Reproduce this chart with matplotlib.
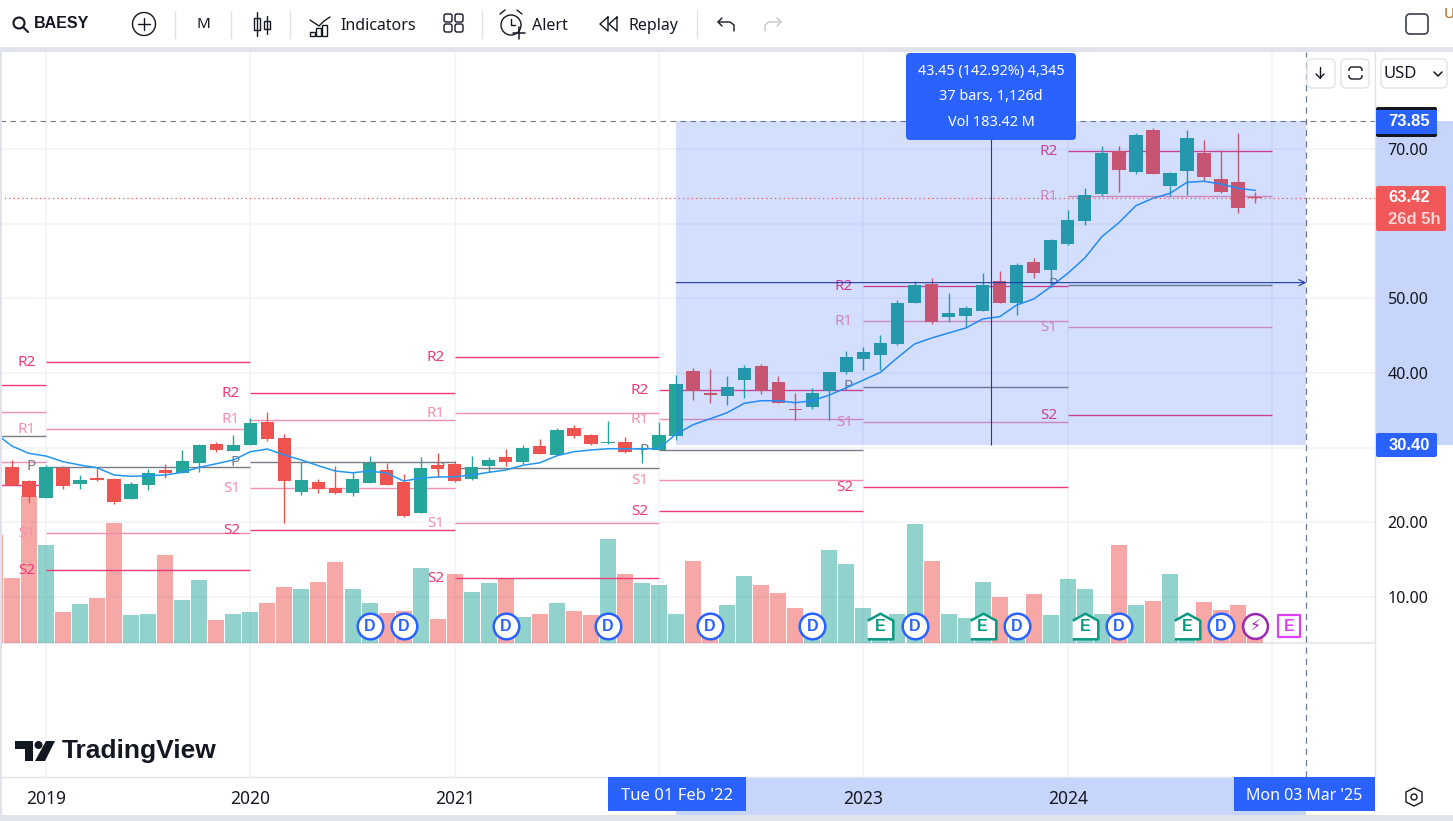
import numpy as np
import matplotlib
matplotlib.use('Agg')
import matplotlib.pyplot as plt
from matplotlib.patches import Rectangle, FancyBboxPatch, Circle, Polygon
from matplotlib.transforms import blended_transform_factory

plt.rcParams['font.family'] = ['Noto Sans', 'DejaVu Sans']

# monthly candles, index 0 = Jan 2019
first_month = -2
opens = [27.41, 25.53, 23.29, 27.27, 25.13, 25.93, 25.80, 23.12, 25.00, 27.01, 26.60, 27.94, 30.49, 29.55, 30.36, 33.44, 31.30, 24.06, 25.40, 24.59, 23.92, 25.26, 27.01, 25.40, 21.24, 27.68, 27.81, 25.80, 27.54, 28.75, 28.08, 30.22, 29.02, 32.64, 31.70, 30.63, 30.76, 29.86, 29.69, 31.56, 40.28, 37.33, 36.93, 39.07, 40.95, 38.80, 35.18, 35.45, 37.60, 40.14, 41.89, 42.42, 43.90, 49.39, 51.94, 47.52, 47.65, 48.32, 52.34, 49.39, 54.89, 53.82, 57.30, 60.38, 64.00, 69.77, 66.95, 72.58, 65.08, 67.09, 69.50, 66.02, 65.61, 63.55]
highs = [28.35, 25.67, 27.67, 27.54, 26.34, 27.27, 25.93, 25.40, 27.14, 27.81, 29.69, 30.49, 30.76, 31.70, 33.98, 34.78, 31.83, 28.08, 25.80, 27.54, 26.74, 28.88, 27.94, 26.47, 28.75, 29.28, 28.21, 28.88, 28.75, 29.82, 30.36, 31.16, 32.64, 33.04, 31.83, 33.58, 31.43, 30.22, 33.44, 39.74, 40.68, 40.54, 39.61, 41.08, 41.22, 39.61, 37.33, 38.00, 40.14, 42.96, 43.49, 45.10, 49.79, 52.34, 52.74, 50.73, 48.99, 53.41, 53.68, 54.75, 55.43, 57.97, 61.86, 64.81, 70.44, 70.44, 72.18, 72.85, 66.95, 72.58, 71.24, 69.90, 72.18, 64.27]
lows = [25.00, 22.58, 23.25, 24.46, 24.46, 25.53, 22.45, 23.12, 24.33, 25.93, 26.60, 26.74, 29.42, 29.55, 30.36, 30.89, 19.90, 23.65, 23.92, 23.79, 23.52, 25.26, 25.00, 20.70, 21.24, 26.07, 25.40, 25.67, 26.74, 27.54, 27.81, 29.15, 29.02, 31.30, 30.36, 30.49, 29.28, 27.94, 29.69, 31.03, 36.39, 35.99, 35.72, 36.66, 37.19, 35.99, 33.71, 35.18, 33.71, 39.87, 40.41, 40.41, 43.76, 49.39, 46.58, 46.85, 46.17, 48.32, 49.39, 47.78, 52.74, 51.81, 57.17, 59.85, 63.74, 64.27, 66.69, 66.69, 63.74, 63.87, 65.75, 64.14, 61.46, 62.80]
closes = [25.00, 23.39, 27.41, 24.86, 25.67, 25.67, 22.72, 25.13, 26.60, 26.60, 28.21, 30.36, 29.69, 30.36, 33.31, 31.17, 25.53, 25.67, 24.46, 23.92, 25.80, 27.94, 25.00, 20.84, 27.27, 27.14, 25.53, 27.41, 28.35, 28.08, 29.96, 29.15, 32.37, 31.56, 30.49, 30.76, 29.42, 29.96, 31.70, 38.53, 37.60, 37.06, 38.13, 40.68, 37.60, 35.99, 35.05, 37.33, 40.14, 42.15, 42.82, 44.03, 49.39, 51.81, 46.85, 48.05, 48.72, 51.81, 49.39, 54.49, 53.41, 57.84, 60.52, 63.87, 69.50, 67.22, 71.91, 66.69, 66.82, 71.51, 66.29, 64.27, 62.13, 63.42]

# these two start one month earlier than the candles
ma_line = [31.97, 30.22, 29.24, 28.88, 28.12, 27.68, 27.31, 26.34, 26.16, 26.24, 26.34, 26.70, 27.37, 27.85, 28.35, 29.46, 29.82, 29.02, 28.35, 27.58, 26.87, 26.64, 26.87, 26.60, 25.53, 25.93, 26.07, 26.11, 26.34, 26.70, 27.01, 27.64, 27.98, 28.92, 29.46, 29.69, 29.86, 29.86, 29.82, 29.92, 31.83, 33.08, 33.88, 34.69, 35.95, 36.30, 36.30, 36.03, 36.30, 37.06, 38.04, 39.07, 40.10, 42.06, 43.90, 44.70, 45.37, 46.04, 47.25, 47.56, 49.12, 49.93, 51.58, 53.37, 55.43, 58.28, 60.16, 62.44, 63.43, 64.10, 65.57, 65.71, 65.34, 64.77, 64.50]
volume = [11.9, 7.2, 16.2, 10.8, 3.4, 4.3, 5.0, 13.2, 3.1, 3.2, 9.7, 4.7, 6.9, 2.5, 3.2, 3.4, 4.4, 6.2, 5.9, 6.7, 8.9, 5.9, 4.4, 3.3, 3.5, 8.3, 2.6, 7.6, 5.6, 6.6, 7.2, 2.9, 3.2, 4.4, 3.5, 3.1, 11.4, 7.6, 6.6, 6.4, 3.2, 9.0, 2.2, 4.2, 7.4, 6.4, 5.5, 3.9, 2.2, 10.2, 8.7, 3.9, 1.3, 3.2, 13.1, 9.0, 3.2, 2.8, 6.7, 5.1, 1.3, 5.4, 3.1, 7.0, 5.9, 3.2, 10.8, 4.2, 4.6, 7.6, 1.1, 4.5, 3.6, 4.2, 0.6]

# yearly pivot points
pivot_starts = [-12, 0, 12, 24, 36, 48, 60]
pivot_r2 = [38.36, 41.44, 37.29, 42.11, 37.69, 51.63, 69.73]
pivot_r1 = [34.74, 32.46, 33.75, 34.61, 33.80, 46.94, 63.70]
pivot_p = [31.60, 27.45, 28.04, 27.23, 29.65, 38.17, 51.87]
pivot_s1 = [28.04, 18.52, 24.55, 19.86, 25.63, 33.40, 46.13]
pivot_s2 = [24.95, 13.56, 18.92, 12.49, 21.47, 24.69, 34.38]

price_ticks = [10, 20, 30, 40, 50, 60, 70]
price_labels = ['10.00', '20.00', '', '40.00', '50.00', '', '70.00']
year_ticks = [0, 12, 24, 48, 60]
year_labels = ['2019', '2020', '2021', '2023', '2024']
year_grid = [0, 12, 24, 36, 48, 60, 72]

dividend_months = [19, 21, 27, 33, 39, 45, 51, 57, 63, 69]
earnings_months = [49, 55, 61, 67]
next_earnings_month = 73
split_month = 71

range_start = 37
range_end = 74
range_low = 30.40
range_high = 73.85
last_price = 63.42

GREEN = '#26a69a'
RED = '#ef5350'
BLUE = '#2962ff'
GRID = '#f0f3fa'
BORDER = '#e0e3eb'
TEXT = '#131722'
R2_COLOR = '#f23a78'
R1_COLOR = '#f48fb1'
P_COLOR = '#787b86'
BOLD_FONT = 'Liberation Sans'

W, H = 1453, 821
fig = plt.figure(figsize=(W / 100, H / 100), dpi=100)
rect = [0, (H - 777) / H, 1375 / W, 725 / H]

# volume sits under the price axes and carries the grid
vol_ax = fig.add_axes(rect, zorder=1)
ax = fig.add_axes(rect, zorder=2)
ax.patch.set_visible(False)

ax.set_xlim(-2.70, 78.04)
ax.set_ylim(-14.14, 83.04)
vol_ax.set_xlim(ax.get_xlim())
vol_ax.set_ylim(-14.74, 65.01)

months = np.arange(first_month, first_month + len(opens))
opens_a = np.array(opens)
closes_a = np.array(closes)
colors = [GREEN if c >= o else RED for o, c in zip(opens, closes)]

grid_tr = blended_transform_factory(vol_ax.transAxes, ax.transData)
for t in price_ticks:
    vol_ax.plot([0, 1], [t, t], color=GRID, lw=1.1, transform=grid_tr, zorder=0)
for m in year_grid:
    vol_ax.axvline(m, color=GRID, lw=1.1, zorder=0)
vol_ax.axhline(0, color=BORDER, lw=1.1, zorder=0)

vol_months = np.arange(first_month - 1, first_month - 1 + len(volume))
vol_ax.bar(vol_months, volume, width=0.94, color=[RED] + colors, alpha=0.5, linewidth=0, zorder=1)
vol_ax.set_xticks([])
vol_ax.set_yticks([])
for s in vol_ax.spines.values():
    s.set_visible(False)

# pivots
levels = [('R2', pivot_r2, R2_COLOR), ('R1', pivot_r1, R1_COLOR), ('P', pivot_p, P_COLOR),
          ('S1', pivot_s1, R1_COLOR), ('S2', pivot_s2, R2_COLOR)]
for name, values, color in levels:
    for start, value in zip(pivot_starts, values):
        ax.hlines(value, start, start + 12, color=color, lw=1.0, zorder=2)
        if start >= 0:
            ax.annotate(name, xy=(start, value), xytext=(-7.5, 0), textcoords='offset points',
                        ha='right', va='center', fontsize=11, color=color, zorder=2.2)

# candles
ax.vlines(months, lows, highs, color=colors, lw=1.0, zorder=3)
ax.bar(months, closes_a - opens_a, bottom=opens_a, width=0.78, color=colors, linewidth=0, zorder=3)
ax.plot(np.arange(first_month - 1, first_month - 1 + len(ma_line)), ma_line, color='#2196f3', lw=1.1, zorder=3.5)

# price range tool
ax.add_patch(Rectangle((range_start, range_low), range_end - range_start, range_high - range_low,
                       facecolor=BLUE, alpha=0.2, linewidth=0, zorder=4))
mid_month = (range_start + range_end) / 2
mid_price = (range_low + range_high) / 2
ax.vlines(mid_month, range_low, range_high, color='#1f3aa8', lw=0.8, zorder=5)
ax.annotate('', xy=(range_end, mid_price), xytext=(range_start, mid_price),
            arrowprops=dict(arrowstyle='->', color='#1f3aa8', lw=0.8, shrinkA=0, shrinkB=0, mutation_scale=11), zorder=5)

# dashed guides and the last price
ax.axhline(range_high, color=P_COLOR, lw=0.8, ls=(0, (5, 4)), zorder=1.5)
ax.axvline(range_end, color='#6a7a90', lw=0.9, ls=(0, (5, 4)), zorder=5)
ax.axhline(last_price, color=RED, lw=0.9, ls=(0, (1, 2.5)), zorder=4.5)

# highlight on both scales
ax.add_patch(Rectangle((1, range_low), 78 / 1375, range_high - range_low, transform=ax.get_yaxis_transform(),
                       facecolor='#c8d5fb', linewidth=0, clip_on=False, zorder=0))
ax.add_patch(Rectangle((range_start, -38 / 725), range_end - range_start, 38 / 725, transform=ax.get_xaxis_transform(),
                       facecolor='#c8d5fb', linewidth=0, clip_on=False, zorder=0))

# axes
ax.yaxis.tick_right()
ax.set_yticks(price_ticks)
ax.set_yticklabels(price_labels, fontsize=11.5, color=TEXT)
ax.set_xticks(year_ticks)
ax.set_xticklabels(year_labels, fontsize=12.5, color=TEXT)
ax.tick_params(axis='both', length=0)
ax.tick_params(axis='y', pad=9)
ax.tick_params(axis='x', pad=9.5)
for side in ('top', 'left'):
    ax.spines[side].set_visible(False)
for side in ('right', 'bottom'):
    ax.spines[side].set_color(BORDER)
    ax.spines[side].set_linewidth(1.0)

# event markers, on a line just above the volume base
marker_tr = blended_transform_factory(ax.transData, vol_ax.transData)
marker_y = 1.87
house = [(-1, -1), (1, -1), (1, 0.45), (0, 1), (-1, 0.45)]
letter_style = dict(transform=marker_tr, family=BOLD_FONT, fontsize=11.5, fontweight='bold', ha='center', va='center', zorder=7)
for m in dividend_months:
    ax.scatter(m, marker_y, transform=marker_tr, s=340, marker='o', facecolor='white', edgecolor=BLUE, lw=1.8, zorder=6)
    ax.text(m, marker_y, 'D', color=BLUE, **letter_style)
for m in earnings_months:
    ax.scatter(m, marker_y, transform=marker_tr, s=340, marker=house, facecolor='white', edgecolor='#089981', lw=1.8, zorder=6)
    ax.text(m, marker_y - 0.1, 'E', color='#089981', **letter_style)
ax.scatter(next_earnings_month, marker_y, transform=marker_tr, s=240, marker='s', facecolor='white', edgecolor='#e040fb', lw=1.6, zorder=6)
ax.text(next_earnings_month, marker_y, 'E', color='#e040fb', **letter_style)
ax.scatter(split_month, marker_y, transform=marker_tr, s=320, marker='o', facecolor='white', edgecolor='#9c27b0', lw=1.8, zorder=6)
ax.text(split_month, marker_y, '\u26a1', transform=marker_tr, color='#9c27b0', fontsize=11.5, family='DejaVu Sans', ha='center', va='center', zorder=7)

# interface on top, in pixels
ui = fig.add_axes([0, 0, 1, 1], zorder=10)
ui.set_xlim(0, W)
ui.set_ylim(H, 0)
ui.axis('off')
ui.patch.set_visible(False)


def box(x0, y0, x1, y1, face='white', edge='none', round_px=0, lw=1.0, z=1):
    if round_px:
        p = FancyBboxPatch((x0, y0), x1 - x0, y1 - y0, boxstyle=f'round,pad=0,rounding_size={round_px}',
                           facecolor=face, edgecolor=edge, lw=lw, zorder=z)
    else:
        p = Rectangle((x0, y0), x1 - x0, y1 - y0, facecolor=face, edgecolor=edge, lw=lw, zorder=z)
    ui.add_patch(p)


def label(x, y, s, size=11.5, color=TEXT, ha='center', weight='normal', z=3):
    family = BOLD_FONT if weight == 'bold' else 'Noto Sans'
    ui.text(x, y, s, fontsize=size, color=color, ha=ha, va='center', fontweight=weight, family=family, zorder=z)


def stroke(xs, ys, color=TEXT, lw=1.0, z=2):
    ui.plot(xs, ys, color=color, lw=lw, solid_capstyle='round', zorder=z)


def ring(x, y, r, color=TEXT, lw=1.0, face='none', z=2):
    ui.add_patch(Circle((x, y), r, facecolor=face, edgecolor=color, lw=lw, zorder=z))


# page frame
box(0, 0, W, 47)
box(0, 47, W, 52, face=BORDER)
box(0, 47, 2, 815, face=BORDER)
box(0, 815, W, H, face=BORDER)

# toolbar
ring(19, 23, 5.5, lw=1.5)
stroke([23, 28], [27, 32], lw=1.5)
label(34, 24, 'BAESY', size=11.5, ha='left', weight='bold')
ring(144, 24, 11.5)
stroke([138, 150], [24, 24])
stroke([144, 144], [18, 30])
label(203, 25, 'M', size=11)
for x in (175, 231, 290, 482, 697):
    stroke([x, x], [11, 38], color=BORDER)
stroke([257, 257], [12, 36])
box(254, 18, 260, 30, edge=TEXT)
stroke([267, 267], [16, 34])
box(264, 21, 270, 29, edge=TEXT)
stroke([310, 319, 324, 330], [20, 26, 21, 17])
for x, y0 in ((310, 32), (316, 28), (322, 25)):
    box(x, y0, x + 5, 36, edge=TEXT)
label(340, 25.5, 'Indicators', ha='left')
for x, y in ((447, 17), (458, 17), (447, 27), (458, 27)):
    box(x - 3, y - 3, x + 5, y + 5, edge=TEXT, round_px=2)
ring(511, 25, 10)
stroke([511, 511, 515], [19, 25, 25])
stroke([500, 505], [14, 10])
stroke([522, 517], [14, 10])
stroke([513, 525], [33, 33], lw=1.1)
stroke([519, 519], [27, 39], lw=1.1)
label(532, 25.5, 'Alert', ha='left')
stroke([608, 600, 608, 608], [17, 24, 31, 17])
stroke([617, 609, 617, 617], [17, 24, 31, 17])
label(628, 25.5, 'Replay', ha='left')
stroke([722, 718, 722], [18, 22, 26])
stroke([718, 730, 734, 734], [22, 22, 25, 31])
stroke([777, 781, 777], [18, 22, 26], color='#c4c6ce')
stroke([781, 769, 765, 765], [22, 22, 25, 31], color='#c4c6ce')
box(1406, 14, 1428, 34, edge='#3a3e4a', round_px=4, lw=1.2)
label(1449, 15, 'U', size=11, color='#b06a10')

# buttons over the chart
box(1307, 59, 1335, 88, edge=BORDER, round_px=5)
stroke([1320, 1320], [67, 78], lw=1.0)
stroke([1316, 1320, 1324], [74, 78, 74], lw=1.0)
box(1341, 59, 1369, 88, edge=BORDER, round_px=5)
box(1349, 67, 1362, 79, edge=TEXT, round_px=3)
box(1347, 71, 1364, 75)
box(1381, 59, 1447, 88, edge=BORDER, round_px=5)
label(1400, 73.5, 'USD', size=12)
stroke([1434, 1438, 1442], [72, 76, 72], lw=1.1)

# tooltip of the range tool
box(906, 53, 1076, 140, face=BLUE, round_px=4)
label(991, 71.5, '43.45 (142.92%) 4,345', size=10.4, color='white')
label(991, 96.5, '37 bars, 1,126d', size=10.4, color='white')
label(991, 122, 'Vol 183.42 M', size=10.4, color='white')

# price badges
box(1376, 107, 1437, 137, face=TEXT, round_px=2)
box(1376, 110, 1437, 134, face=BLUE)
label(1409, 122, '73.85', size=12, color='white', weight='bold')
box(1376, 186, 1446, 231, face='#f0585a', round_px=2)
label(1409, 198, '63.42', size=12, color='white', weight='bold')
label(1414, 219, '26d 5h', size=12, color='#ffd6d6', weight='bold')
box(1376, 433, 1437, 457, face=BLUE, round_px=2)
label(1409, 445, '30.40', size=12, color='white', weight='bold')

# date badges
box(608, 777, 746, 811, face=BLUE)
label(677, 796, "Tue 01 Feb '22", size=12, color='white')
box(1234, 777, 1375, 811, face=BLUE)
label(1304, 796, "Mon 03 Mar '25", color='white')

# settings icon
ui.add_patch(Polygon([(1414, 788), (1422, 792), (1422, 802), (1414, 806), (1406, 802), (1406, 792)],
                     facecolor='none', edgecolor=TEXT, lw=1.0, zorder=2))
ring(1414, 797, 3)

# logo
ui.add_patch(Polygon([(15, 741), (33, 741), (33, 761), (25, 761), (25, 749), (15, 749)], facecolor=TEXT, lw=0, zorder=2))
ring(38.5, 745, 4, color=TEXT, face=TEXT, lw=0)
ui.add_patch(Polygon([(46, 741), (55, 741), (45, 761), (35, 761)], facecolor=TEXT, lw=0, zorder=2))
label(62, 751, 'TradingView', size=19, ha='left', weight='bold')

fig.savefig('out.png', dpi=100)
